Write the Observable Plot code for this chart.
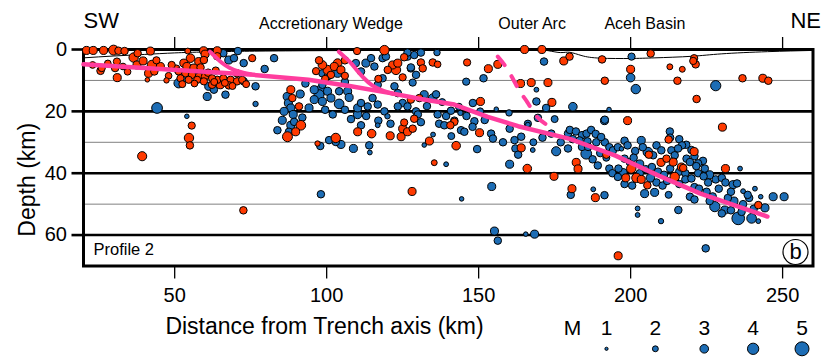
<!DOCTYPE html>
<html><head><meta charset="utf-8">
<script src="https://cdn.jsdelivr.net/npm/d3@7"></script>
<script src="https://cdn.jsdelivr.net/npm/@observablehq/plot@0.6"></script>
<style>
body{margin:0;background:#fff;}
#wrap{position:relative;width:823px;height:358px;overflow:hidden;}
#legend{position:absolute;left:560px;top:305px;}
</style></head><body><div id="wrap"><div id="main"></div><div id="legend"></div></div>
<script>
const FONT = "'Liberation Sans', Arial, Helvetica, sans-serif";
const RED = "#ff3a00", BLUE = "#1d6db5", PINK = "#ff3d9e";

// axes
const xTicks = [50, 100, 150, 200, 250];
const depthMajor = [0, 20, 40, 60];
const depthMinor = [10, 30, 50];
const regionNames = ["Accretionary Wedge", "Outer Arc", "Aceh Basin"];
const regionKm = [101.4, 167.6, 204.7];
const legendMags = [1, 2, 3, 4, 5];

// [km, depth]
const bathymetry = [[20,2.7],[30,2.1],[40,1.6],[50,1.1],[60,0.8],[80,0.5],[120,0.3],[150,0.3],[160,0.1],[168,0.0],[173,0.4],[177,1.0],[180,0.9],[184,2.0],[190,2.8],[200,2.9],[208,2.7],[220,2.2],[230,1.4],[245,0.7],[260,0.3]];
const slabTop = [[20,4.8],[76,8.2],[94,9.8],[108,11.9],[121,14.1],[131,16],[142,17.8],[153,21.8],[163,24.8],[180,28.9],[195,34.3],[209,40.7],[223,46.6],[245,54]];
const splayWest = [[61.6,0.7],[63.5,2.5],[65.5,4.3],[68,5.9],[71,7.1],[75,8.0]];
const splayEast = [[104,0.7],[106,2.5],[108,4.4],[110,6.8],[112.3,9.3],[115,11.6],[118.5,13.3],[122,14.4]];
const backthrust = [[156.3,2.3],[158.5,5],[161,9],[163.5,13.5],[166,17],[169,21.5],[172.6,24.5]];

// earthquakes [km, depth, magnitude]
const redSW = [[21,0.3,2.8],[23.2,0.3,2.8],[26.6,0.3,2.8],[29.9,0.2,3.5],[31.5,0.4,2.6],[33.5,0.5,2.6],[37.8,1.2,2.6],[42,0.5,2.8],[54.3,0.5,2],[59.5,0.4,2.8],[64,0.4,2.8],
[25.6,6.9,2.6],[26,6,2.5],[31.1,9.1,2.8],[30.4,6,2.6],[31,3.9,2.5],[36.5,2.6,3.3],[37.6,5,2.8],[39.6,3.7,2.8],[42.5,5,3.3],[45.3,5.5,2.8],[43.3,7.1,2.6],[41.4,7.7,2.8],[41,9.8,1.5],[47.3,10,1.8],
[55.2,2.8,3],[53,4.4,2.8],[57.9,3.9,2.8],[59.6,3.4,2.6],[54,5.5,2.8],[56.3,6,2.8],[51.3,7.1,2.5],[53.5,7.7,2.6],[55.7,8.2,2.6],[58,8.7,2.6],[60,8.7,2.6],[51.9,9.3,2.5],[54.6,9.8,2.5],[57.4,9.8,2.5],[59.6,10.3,2.5],[62.3,9.3,2.5],[64,9.8,2.6],[66,9.3,2.5],[68.4,9.8,2.6],[70.5,10.3,2.6],[72.2,9.8,2.5],[62.3,11.4,2.6],[65,11.4,2.8],[67.8,11.6,2.6],[70.5,7.7,2.6],[75.5,2.8,2.5],[60,1.5,2.8],[64,2.2,2.6],[49,5,2.5],[50.5,6.2,2.6],[48,8.5,2.3],[56.5,11,2.3],[61,7.5,2.6],[63.5,6.8,2.5],[58.5,5.8,2.6],[44,3.5,2.5],[33,5.5,2.3],[34.5,7.2,2.3],[28,4.5,2.3],[23,5,2.3],[52.5,11.2,2.4],[69,11.8,2.4],[73.5,11.2,2.4],[66.5,10.8,2.4],[63,10.5,2.4],
[55.6,24.6,2.5],[54.7,28.6,3.3],[55,31,2.6],[39.3,34.5,3.2],[72.6,52,2.6]];
const redWedge = [[88.2,13,2.8],[88.7,15.7,2.6],[90.9,18.4,2.6],[98.6,5,3],[100.3,6.6,3.2],[102.5,5.5,2.8],[103.6,4.4,3],[104.7,6.6,2.8],[101.4,8.2,2.6],[97.5,3.5,2.6],[96.5,7,2.5],[106,8.5,2.5],[106,3.5,2.6],[99.5,9.5,2.5],[119,0.2,3.3],[121.7,5,2.8],[122.8,6.6,3.3],[123.4,4.4,2.8],[120.1,6.6,2.6],[125.5,2.5,2.6],[127.7,16.2,2.6],[130.5,15.7,2.6],[117,9.5,2.5],[125,9,2.5],[110,0.5,2.5],
[87.1,28.2,3.5],[89.8,26.6,2.8],[91.5,24.5,3.4],[97,30.4,1.8],[103,28.6,3.3],[110.2,26.6,2.8],[114.8,27.2,3],[120.9,27.9,2.8],[125,25.6,2.8],[124.5,28.2,2.8],[126.6,26.6,2.8],[128.3,25.6,2.6],[128.8,22.4,2.6],[125.5,23.6,2.5],[128.1,45.9,2.8],
[131,4.2,2.6],[134.9,4.2,2.6],[136.5,4.8,2.3],[131.6,6.1,2.6]];
const redForearc = [[146.2,4.2,2.5],[153.2,6.2,2.8],[156.3,4.8,2.8],[163.8,11,2.8],[167.3,10.7,2.8],[172.8,10.7,2.8],[150.6,16.8,2.8],[174.1,17.1,2.8],[165.1,0,2.8],[170.8,0,2.8],[178,3.7,2.8],[179.9,2.3,2.6],[190.6,3.2,2.6],[206.6,1.3,2.6],[220.9,2.8,2.5],[220.6,3.7,2.5],[221.4,4.8,2.6],[212.9,5.6,2],[217,6.4,2],[200,6.4,2.8],[191.5,10.1,2.6],[215.4,10.1,2.6],[236.8,9.3,2.6],[243.5,9.3,2.8],[245.3,10.1,2.6],[221.7,16,2.6],[199,23,2.8],[230.2,25.1,2.8],[142,23.4,2.6],
[133.8,29.6,2.8],[142.6,31.1,3],[135.4,36.6,2],[166,38.5,3],[174.8,41,2.8],[180.7,45,2.8],[188.4,47.9,2.8],[195.9,66.7,2.8],[164,31.8,2.8],[150.3,26.9,2.8],[140.7,24.5,2.6]];
const redSlab = [[182.1,36.5,2.8],[182.7,38.6,2.8],[192,34,2.6],[200.2,38.5,3.3],[201.9,41.5,3.3],[198.4,41.5,2.8],[205.5,43.9,2.6],[214.5,41.2,3.3],[210,36.5,2.8],[211.8,35.3,2.6],[214,36.4,2.8],[216.7,38,2.8],[206,34,2.6],[220.9,33,2.8],[217.3,38.3,2.6],[231.2,38.5,2.8],[242,50.3,2.6],[212.5,29.1,2.6],[203.5,42,2.8]];

const blueSW = [[51.3,10.9,3.3],[53,9.3,2.6],[61.2,11.9,2.8],[60.7,15.2,2.8],[62.9,13,2.6],[66.7,14.6,2.6],[44.2,18.9,3.8],[54,21.6,1.5],[65,1.2,2.6],[66,1.2,2.6],[67.8,3.4,2.8],[69.5,2.8,2.6],[72.7,4.4,2.6],[72.7,10.3,2.6],[70.8,0.5,2.6]];
const blueWedge = [[82.7,2.8,2.6],[79.6,6.3,2.6],[76.6,11.9,2.6],[76.6,17.6,1.8],[87,15.2,2.8],[91.3,14.4,2.8],[87.4,17.3,2.8],[88.2,18.9,2.8],[94.2,18.9,2.8],[95.9,16.2,2.8],[95.9,13,2.8],[97.5,14.6,3.5],[98.6,16.8,2.8],[100.3,13.5,2.8],[101.4,15.7,2.8],[104.1,17.6,3.4],[106.9,13.5,2.8],[107.4,15.5,2.8],[110.2,18.9,2.8],[111.3,17.3,2.6],[113.5,18.4,2.6],[115.1,15.7,2.6],[116.8,17.8,2.6],[119,20,2.6],[110.2,21,3],[120,21.6,1.8],[103.6,7.7,2.8],[98.6,7.7,2.6],[100.3,8.7,2.6],[112.9,4.4,2.8],[114.6,2.8,2.6],[115.7,5.5,2.6],[118.4,2.8,2.6],[119.5,2.3,2.6],[126.6,2.3,2.6],[128.8,1.8,2.6],[127.7,6.1,2.6],[129.4,8.2,2.6],[118.4,9.3,2.6],[116.8,11.4,2.6],[122.3,11.9,2.6],[123.4,14.1,2.6],[125,17.3,2.6],[123.4,18.4,2.6],[126.6,18.4,2.6],[129.4,20,2.6],[104.1,13.5,2.6],[98.6,11.4,2.6],[109.6,4.4,2.6],[111.3,7.1,2.6],[86,20,2.8],[89,21,2.8],[92,22,2.6],[99.5,19.5,2.6],[102,21,2.6],[106,19.5,2.6],[108,22.5,2.6],[113,21.5,2.6],[117,23,2.6],[121,24,2.6],[93,11,2.6],[106,10.5,2.6],[98,13.3,3.8],
[85.4,22.9,2.8],[83.8,26.1,2.6],[88.2,24.5,2.8],[89.3,23.4,2.6],[87.6,26.6,2.6],[97.9,31.2,2.6],[100.8,29.3,2.6],[103,29.9,2.6],[104.7,30.7,2.8],[108.8,32,2.8],[114,31,2.6],[114.2,33.3,1.6],[111.3,24.5,2.6],[116.8,24.5,1.6],[98.1,46.8,2.6]];
const blueForearc = [[145.9,10.4,2.5],[151.6,9.3,2.6],[169,13,1.6],[148.1,17.3,2.6],[169,16.8,2.6],[181,18.5,3],[155.8,19.3,1.5],[192.9,19.4,1.5],[191.5,22.7,2.6],[171.5,3.9,2.6],[200.3,2.3,2.5],[200,9.1,3],[201.7,12.8,3.3],[228,11.7,3.6],[126.6,1,2.6],[131,1,2.6],[136.3,1,2.2],[127.7,5.8,2.6],[128.3,10.7,2.5],[172.2,18.9,2.6],[166.2,24,2.5],[169.5,22.1,2.6],
[132.1,14.6,2.8],[134.9,15.7,3],[136,14.5,2.6],[133,18.3,2.6],[136.5,21,2.6],[139.3,21.5,2.6],[140.9,19.8,2.6],[142,23,2.6],[148.6,23.2,2.6],[152,22.8,2.6],[138,17,2.4],[144,20.5,1.8],[130,21,2.6],[131,23.5,2.6],[146,21.5,2.6],[150.5,20,2.4],[137,24,2.6],[143.5,18.5,2.4],[175,22.5,2.4],[160,20.5,2.2],
[132.1,30.9,1.5],[149.5,32.2,2.6],[139.3,37.1,1.6],[160.2,37.1,2.8],[154.3,44.3,2.8],[144.4,48.3,1.5],[180.3,47,2.6],[167.8,32.5,1.6],[162.1,32,2.6],[161.8,29.3,2.6],[164,28.2,2.6],[138.7,24.5,2.6],[144.2,26.1,2.6],[145.3,26.6,2.6],[148,25,2.6],[154.1,27.2,2.6],[154.7,28.8,2.6],[160.2,25.6,2.6],[166.2,24.3,1.6],[175.5,32.9,3.2],[173.9,27.2,2.6],[179.4,27.2,2.6],[179.4,32,2.6],[177,30,2.6],[171,28.5,2.6],[158,30,2.6],[163,34,2.6],[168,30,2.4],[135,27.5,1.6],[141,28,2.4]];
const blueDeep = [[155.2,58.7,2.8],[156.3,61.8,2.6],[168.4,59.7,2.8],[165.5,59.7,1.5],[224.7,64.3,2.6],[202.3,51.4,1.6],[202.3,53.5,1.6],[210,55.5,1.8],[215.7,51.9,2.6],[187.7,45.2,1.6],[191.4,47.1,2.6]];
const blueSlab = [[180,26,2.6],[182,26.5,2.6],[184,27.7,2.6],[185.5,27.2,2.6],[187,26,2.6],[188.5,27.3,2.6],[181,29,2.6],[183.2,29.4,2.6],[185.8,29.7,2.6],[188.7,30,2.6],[191.5,30,2.6],[190.3,28.3,2.6],[184,31.5,2.6],[186,31.5,2.6],[193,31.6,2.6],[194.2,32.6,2.6],[195.8,31.6,2.6],[190,33.5,2.6],[185.4,33.7,3.8],[187.5,35.5,2.6],[192,35,2.4],[189.2,37.5,2.6],[193,38.5,2.6],[197,32.1,1.5],[191.4,23,2.8],
[198,29.5,2.6],[201.5,32.8,2.6],[203.5,29.4,2.8],[204,31.6,2.6],[208.5,31,2.6],[210.1,32.6,2.6],[199,31,2.6],[198,35.3,2.6],[199.7,36.4,2.6],[201,35,2.6],[205.7,33.2,3.4],[207.4,34.2,2.6],[203,37,2.8],[196,38.5,2.6],[197.5,39.8,2.8],[203,40,2.6],[205,38.7,2.6],[207,38,2.6],[209,39.5,2.6],[194,40,2.6],[195.8,41.2,2.6],[198,43.5,2.6],[200.5,44,2.6],[206.5,41.5,3],[208.5,43,2.6],[204.6,46.6,2.8],[207.9,46.2,2.8],[210.5,44,2.6],
[212.9,26.5,2.6],[213,28.5,2.6],[216,29,2.6],[218.3,30.8,2.6],[216.9,31,2.6],[213.4,32.6,2.6],[214.5,34.2,2.6],[215.6,32,2.6],[220,32.5,2.6],[221,34.5,2.6],[218.4,35.3,2.6],[223.8,36,2.6],[219.5,36.4,2.6],[222.2,36.8,2.6],[221.6,37.7,2.6],[224.4,38.5,2.6],[211,40.5,2.6],[213,38.5,2.6],[216,39.5,2.6],[218,40,2.6],[222.2,40,2.6],[212,42.5,2.6],[216,43.5,2.6],[218,42,2.6],[220,41.7,2.6],[221,44.5,2.6],[224,41,2.6],[225.5,43,2.6],[219.5,47.6,2.6],[222.5,45,2.6],[221,48.5,2.6],[212.5,47,2.4],
[226,40.5,2.8],[228,42,2.6],[230,41.5,2.6],[231.2,43,2.6],[233.7,43.7,2.8],[235,43.3,2.6],[229,45,2.6],[236,38.5,1.6],[225,46,2.6],[227,47.5,2.6],[232,48,2.6],[234,49,2.8],[237,50,2.6],[239,48,2.6],[238.5,47,2.6],[233,46,2.6],[237,45.8,1.6],[240.9,45,1.6],[242.8,47.6,1.5],[246.9,47.6,2.8],[250.5,47.6,2.8],[226,49,2.6],[227.7,50.8,3.6],[231,51.9,2.8],[236.5,52.5,2.6],[240.5,51.5,2.6],[244.2,51.2,2.8],[235.4,54.6,4.5],[239.8,54.6,3.4],[242,55.5,1.6],[230,53,2.6],[233,52,2.6]];

const toRows = (arr) => arr.map(([km, depth, mag]) => ({km, depth, mag}));
const blueQuakes = toRows([...blueSW, ...blueWedge, ...blueForearc, ...blueDeep, ...blueSlab]);
const redQuakes = toRows([...redSW, ...redWedge, ...redForearc, ...redSlab]);
const rScale = {type: "linear", domain: [1, 5], range: [1.6, 7]};
const pt = {x: d => d[0], y: d => d[1]};
const mid = {textAnchor: "middle", lineAnchor: "middle"};

const chart = Plot.plot({
  width: 823, height: 358,
  marginLeft: 83, marginRight: 10.5, marginTop: 49, marginBottom: 92.5,
  style: {fontFamily: FONT, background: "white", color: "black", overflow: "visible"},
  x: {domain: [20, 260]},
  y: {domain: [0, 70], reverse: true},
  r: rScale,
  marks: [
    Plot.ruleY(depthMinor, {stroke: "#808080", strokeWidth: 1}),
    Plot.ruleY(depthMajor, {stroke: "black", strokeWidth: 2.6}),
    Plot.frame({stroke: "black", strokeWidth: 3}),
    Plot.axisY({ticks: depthMajor, tickSize: 11.5, tickPadding: 5, strokeWidth: 2.6, fontSize: 20, label: null}),
    Plot.axisX({ticks: xTicks, tickSize: 13, tickPadding: 9, strokeWidth: 1.3, fontSize: 20, label: null}),
    Plot.axisX({anchor: "top", ticks: xTicks, tickSize: 13, strokeWidth: 1.3, tickFormat: () => "", label: null}),
    Plot.line(bathymetry, {...pt, stroke: "black", strokeWidth: 1, curve: "natural"}),
    Plot.dot(blueQuakes, {x: "km", y: "depth", r: "mag", fill: BLUE, stroke: "black", strokeWidth: 1}),
    Plot.dot(redQuakes, {x: "km", y: "depth", r: "mag", fill: RED, stroke: "black", strokeWidth: 1}),
    Plot.line(slabTop, {...pt, stroke: PINK, strokeWidth: 4.5, strokeLinecap: "round"}),
    Plot.line(splayWest, {...pt, stroke: PINK, strokeWidth: 4, curve: "natural"}),
    Plot.line(splayEast, {...pt, stroke: PINK, strokeWidth: 4, curve: "natural"}),
    Plot.line(backthrust, {...pt, stroke: PINK, strokeWidth: 4, strokeDasharray: "11,13", curve: "natural"}),
    Plot.text(["Depth (km)"], {frameAnchor: "left", dx: -56, dy: 22, rotate: -90, fontSize: 23, ...mid}),
    Plot.text(["Distance from Trench axis (km)"], {frameAnchor: "bottom-left", dx: 241, dy: 61, fontSize: 23, ...mid}),
    Plot.text(["SW"], {frameAnchor: "top-left", dy: -28.5, fontSize: 22, textAnchor: "start", lineAnchor: "middle"}),
    Plot.text(["NE"], {frameAnchor: "top-right", dx: 8, dy: -28.5, fontSize: 22, textAnchor: "end", lineAnchor: "middle"}),
    Plot.text(regionNames, {x: (d, i) => regionKm[i], frameAnchor: "top", dy: -25.5, fontSize: 16, ...mid}),
    Plot.text(["Profile 2"], {frameAnchor: "bottom-left", dx: 10, dy: -16.5, fontSize: 16.5, textAnchor: "start", lineAnchor: "middle"}),
    Plot.dot(["b"], {frameAnchor: "bottom-right", dx: -17.5, dy: -14, r: 12.5, fill: "white", stroke: "black", strokeWidth: 1.2}),
    Plot.text(["b"], {frameAnchor: "bottom-right", dx: -17.5, dy: -14, fontSize: 22, ...mid})
  ]
});
document.getElementById("main").appendChild(chart);

const legend = Plot.plot({
  width: 263, height: 53,
  marginLeft: 46, marginRight: 21.5, marginTop: 0, marginBottom: 0,
  style: {fontFamily: FONT, background: "transparent", color: "black", overflow: "visible"},
  x: {domain: [1, 5], axis: null},
  r: rScale,
  marks: [
    Plot.text(["M"], {frameAnchor: "top-left", dx: -34, dy: 22.5, fontSize: 21, ...mid}),
    Plot.text(legendMags, {x: d => d, text: d => String(d), frameAnchor: "top", dy: 22.5, fontSize: 21, ...mid}),
    Plot.dot(legendMags, {x: d => d, r: d => d, frameAnchor: "bottom", dy: -9.7, fill: BLUE, stroke: "black", strokeWidth: 1})
  ]
});
document.getElementById("legend").appendChild(legend);
</script></body></html>
